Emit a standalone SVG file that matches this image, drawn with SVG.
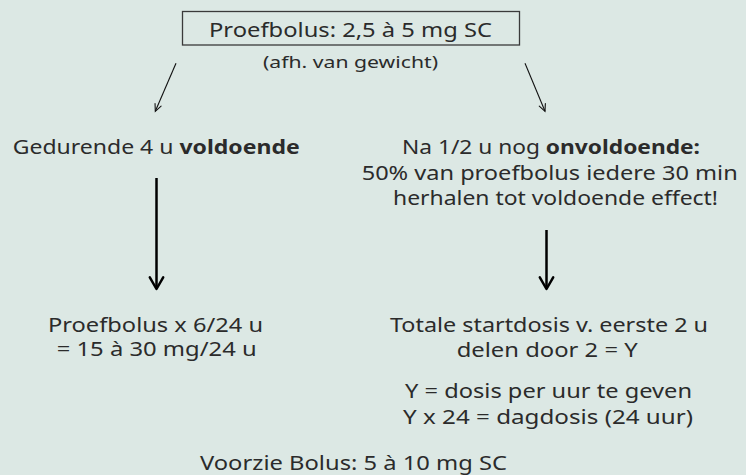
<svg xmlns="http://www.w3.org/2000/svg" width="746" height="475" viewBox="0 0 746 475">
<style>
.t{font-family:"Noto Sans","Liberation Sans",sans-serif;font-size:19px;fill:#2b2b2b}
.s{font-size:16px}
.b{font-weight:bold}
.thick{stroke:#000;stroke-width:2.5;fill:none}
.thin{stroke:#111;stroke-width:1.1;fill:none}
</style>
<defs>
<marker id="ah" markerUnits="userSpaceOnUse" viewBox="-14 -9 17 18" markerWidth="17" markerHeight="18" refX="0" refY="0" orient="auto">
<path d="M-11.7,-6.7 L0,0 L-11.7,6.7" fill="none" stroke="#000" stroke-width="2.5" stroke-linejoin="round" stroke-linecap="round"/>
</marker>
<marker id="ahs" markerUnits="userSpaceOnUse" viewBox="-9 -5 11 10" markerWidth="11" markerHeight="10" refX="0" refY="0" orient="auto">
<path d="M-7,-3.3 L0,0 L-7,3.3" fill="none" stroke="#111" stroke-width="1.1" stroke-linecap="round"/>
</marker>
</defs>
<rect width="746" height="475" fill="#dce8e4"/>
<g id="connectors">
<line class="thin" x1="176" y1="63.3" x2="155.3" y2="111.3" marker-end="url(#ahs)"/>
<line class="thin" x1="525" y1="63.3" x2="545" y2="111.3" marker-end="url(#ahs)"/>
<line class="thick" x1="156.5" y1="178" x2="156.5" y2="289" marker-end="url(#ah)"/>
<line class="thick" x1="546.5" y1="230" x2="546.5" y2="289" marker-end="url(#ah)"/>
</g>
<g id="start">
<rect x="182.5" y="11.5" width="337" height="33.5" fill="none" stroke="#3a3a3a" stroke-width="1.3"/>
<text class="t" x="209" y="36.5" textLength="283" lengthAdjust="spacingAndGlyphs">Proefbolus: 2,5 à 5 mg SC</text>
<text class="t s" x="263" y="68" textLength="175" lengthAdjust="spacingAndGlyphs">(afh. van gewicht)</text>
</g>
<g id="voldoende">
<text class="t" x="12.7" y="154" textLength="287" lengthAdjust="spacingAndGlyphs">Gedurende 4 u <tspan class="b">voldoende</tspan></text>
</g>
<g id="onvoldoende">
<text class="t" x="402" y="154" textLength="298" lengthAdjust="spacingAndGlyphs">Na 1/2 u nog <tspan class="b">onvoldoende:</tspan></text>
<text class="t" x="361.7" y="180" textLength="376" lengthAdjust="spacingAndGlyphs">50% van proefbolus iedere 30 min</text>
<text class="t" x="393" y="205" textLength="325" lengthAdjust="spacingAndGlyphs">herhalen tot voldoende effect!</text>
</g>
<g id="result-left">
<text class="t" x="48" y="332" textLength="215" lengthAdjust="spacingAndGlyphs">Proefbolus x 6/24 u</text>
<text class="t" x="56.7" y="356" textLength="200" lengthAdjust="spacingAndGlyphs">= 15 à 30 mg/24 u</text>
</g>
<g id="result-right">
<text class="t" x="390" y="332" textLength="318" lengthAdjust="spacingAndGlyphs">Totale startdosis v. eerste 2 u</text>
<text class="t" x="456.7" y="357" textLength="181" lengthAdjust="spacingAndGlyphs">delen door 2 = Y</text>
<text class="t" x="405" y="398" textLength="287" lengthAdjust="spacingAndGlyphs">Y = dosis per uur te geven</text>
<text class="t" x="403" y="424" textLength="290" lengthAdjust="spacingAndGlyphs">Y x 24 = dagdosis (24 uur)</text>
</g>
<g id="bolus">
<text class="t" x="200" y="469.5" textLength="307" lengthAdjust="spacingAndGlyphs">Voorzie Bolus: 5 à 10 mg SC</text>
</g>
</svg>
